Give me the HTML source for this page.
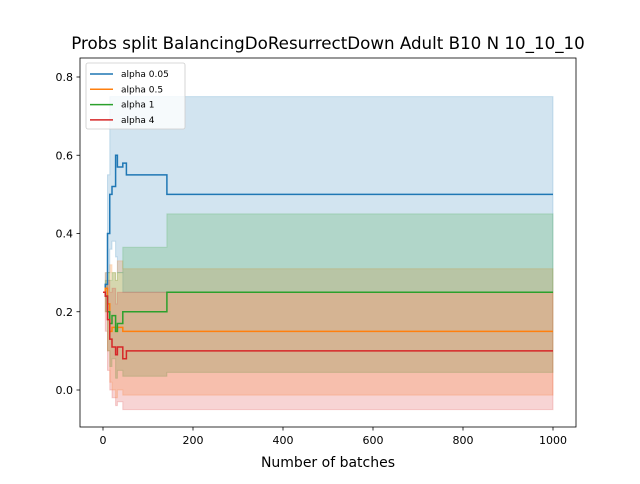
<!DOCTYPE html>
<html><head><meta charset="utf-8"><style>
body{margin:0;background:#fff;font-family:"DejaVu Sans","Liberation Sans",sans-serif}
</style></head><body>
<svg id="chart" width="640" height="480" xmlns="http://www.w3.org/2000/svg" font-family="DejaVu Sans, Liberation Sans, sans-serif"></svg>
<script>
// data (step functions: value holds from x[i] to x[i+1])
const batches = [0, 5, 10, 15, 20, 28, 32, 44, 52, 142, 1000];
const meanA005 = [0.25, 0.27, 0.40, 0.50, 0.52, 0.60, 0.57, 0.58, 0.55, 0.50, 0.50];
const upA005 = [0.25, 0.30, 0.55, 0.75, 0.75, 0.75, 0.75, 0.75, 0.75, 0.75, 0.75];
const loA005 = [0.25, 0.24, 0.30, 0.36, 0.38, 0.34, 0.30, 0.25, 0.25, 0.25, 0.25];
const meanA05 = [0.25, 0.26, 0.22, 0.15, 0.16, 0.15, 0.16, 0.15, 0.15, 0.15, 0.15];
const upA05 = [0.25, 0.30, 0.30, 0.32, 0.30, 0.28, 0.33, 0.31, 0.31, 0.31, 0.31];
const loA05 = [0.25, 0.20, 0.10, 0.02, 0.0, -0.02, 0.0, -0.013, -0.013, -0.013, -0.013];
const meanA1 = [0.25, 0.24, 0.20, 0.17, 0.19, 0.15, 0.17, 0.20, 0.20, 0.25, 0.25];
const upA1 = [0.25, 0.28, 0.30, 0.28, 0.30, 0.28, 0.30, 0.365, 0.365, 0.45, 0.45];
const loA1 = [0.25, 0.20, 0.10, 0.06, 0.08, 0.03, 0.05, 0.035, 0.035, 0.045, 0.045];
const meanA4 = [0.25, 0.24, 0.18, 0.13, 0.11, 0.09, 0.11, 0.08, 0.10, 0.10, 0.10];
const upA4 = [0.25, 0.27, 0.28, 0.25, 0.26, 0.22, 0.25, 0.25, 0.25, 0.25, 0.25];
const loA4 = [0.25, 0.15, 0.05, 0.0, -0.02, -0.04, -0.03, -0.05, -0.05, -0.05, -0.05];
const xTicks = [0, 200, 400, 600, 800, 1000];
const yTicks = [0.0, 0.2, 0.4, 0.6, 0.8];
const seriesNames = ["alpha 0.05", "alpha 0.5", "alpha 1", "alpha 4"];
const colors = ["#1f77b4", "#ff7f0e", "#2ca02c", "#d62728"];

const NS = "http://www.w3.org/2000/svg";
const svg = document.getElementById("chart");
const L = 80, R = 576, T = 58, B = 427;
const xs = v => 103 + (v - 0) * 0.45;
const ys = v => 390 - v * 391.25;
function mk(tag, attrs, parent) {
  const e = document.createElementNS(NS, tag);
  for (const k in attrs) e.setAttribute(k, attrs[k]);
  (parent || svg).appendChild(e);
  return e;
}
function stepPts(xv, yv) {
  const p = [];
  for (let i = 0; i < xv.length; i++) {
    if (i > 0) p.push([xs(xv[i]), ys(yv[i - 1])]);
    p.push([xs(xv[i]), ys(yv[i])]);
  }
  return p;
}
const all = [[meanA005, upA005, loA005], [meanA05, upA05, loA05], [meanA1, upA1, loA1], [meanA4, upA4, loA4]];
all.forEach((s, i) => {
  const up = stepPts(batches, s[1]);
  const lo = stepPts(batches, s[2]).reverse();
  const d = "M" + up.concat(lo).map(p => p[0].toFixed(1) + "," + p[1].toFixed(1)).join("L") + "Z";
  const band = mk("path", {d: d, fill: colors[i], "fill-opacity": 0.2, stroke: colors[i], "stroke-opacity": 0.2});
  
  
});
all.forEach((s, i) => {
  const pts = stepPts(batches, s[0]);
  const line = mk("polyline", {points: pts.map(p => p.join(",")).join(" "), fill: "none", stroke: colors[i], "stroke-width": 1.5});
  
  
});
const frame = mk("rect", {x: L, y: T, width: R - L, height: B - T, fill: "none", stroke: "#000", "stroke-width": 0.8});


xTicks.forEach(t => {
  const x = xs(t);
  mk("line", {x1: x, x2: x, y1: B, y2: B + 3.5, stroke: "#000", "stroke-width": 0.8});
  const tx = mk("text", {x: x, y: B + 17, "font-size": 11, "text-anchor": "middle"});
  tx.textContent = t;
  
  
});
yTicks.forEach(t => {
  const y = ys(t);
  mk("line", {x1: L - 3.5, x2: L, y1: y, y2: y, stroke: "#000", "stroke-width": 0.8});
  const tx = mk("text", {x: L - 7, y: y + 4, "font-size": 11, "text-anchor": "end"});
  tx.textContent = t.toFixed(1);
  
  
});
const xt = mk("text", {x: 328, y: 467, "font-size": 14, "text-anchor": "middle"});
xt.textContent = "Number of batches";


const title = mk("text", {x: 328, y: 49, "font-size": 16.7, "text-anchor": "middle"});
title.textContent = "Probs split BalancingDoResurrectDown Adult B10 N 10_10_10";


const lg = mk("g", {});


mk("rect", {x: 86, y: 63, width: 99, height: 66, rx: 2, fill: "#fff", "fill-opacity": 0.8, stroke: "#ccc", "stroke-width": 0.8}, lg);
seriesNames.forEach((n, i) => {
  const y = 74 + i * 15.3;
  const e = mk("g", {}, lg);
  
  
  mk("line", {x1: 90, x2: 113, y1: y, y2: y, stroke: colors[i], "stroke-width": 1.5}, e);
  const t = mk("text", {x: 121, y: y + 3, "font-size": 9}, e);
  t.textContent = n;
});
</script>
</body></html>
